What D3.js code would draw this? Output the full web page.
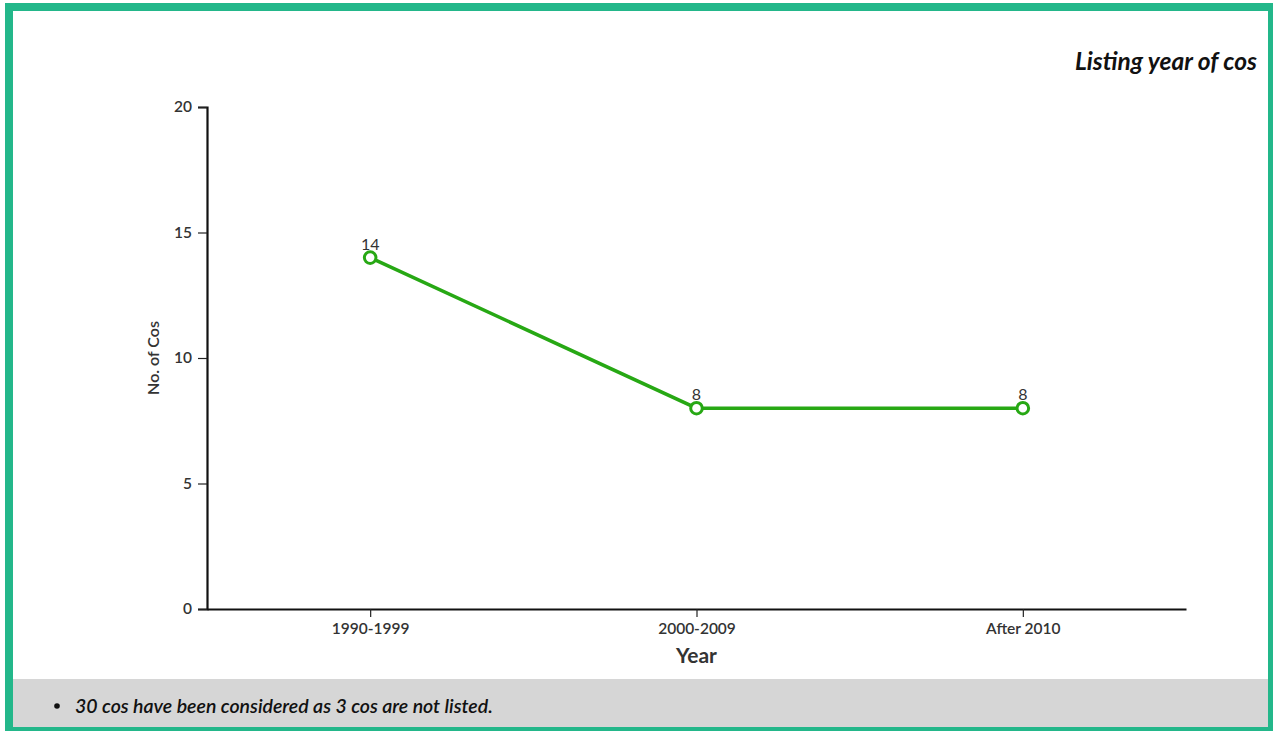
<!DOCTYPE html>
<html>
<head>
<meta charset="utf-8">
<script src="https://cdn.jsdelivr.net/npm/d3@7"></script>
<style>
  html, body { margin: 0; padding: 0; background: #fff; }
  svg { display: block; font-family: Lato, "Open Sans", sans-serif; }
</style>
</head>
<body>
<svg id="chart" width="1273" height="731"></svg>
<script>
// Listing-year buckets and number of companies in each
const categories = ["1990-1999", "2000-2009", "After 2010"];
const counts = [14, 8, 8];
const yTicks = [0, 5, 10, 15, 20];

const title = "Listing year of cos";
const xTitle = "Year";
const yTitle = "No. of Cos";
const footnote = "30 cos have been considered as 3 cos are not listed.";

const svg = d3.select("#chart");
const W = 1273, H = 731;

// Frame and note band
svg.append("rect").attr("x", 0).attr("y", 0).attr("width", W).attr("height", H).attr("fill", "#fff");
svg.append("rect").attr("x", 13).attr("y", 679).attr("width", 1255).attr("height", 48).attr("fill", "#d6d6d6");
svg.append("rect").attr("x", 9).attr("y", 7).attr("width", 1263).attr("height", 724)
  .attr("fill", "none").attr("stroke", "#23b78a").attr("stroke-width", 8);

// Chart title
svg.append("text").attr("x", 1257).attr("y", 70).attr("text-anchor", "end")
  .attr("font-size", 24.5).attr("font-weight", 700).attr("font-style", "italic")
  .attr("fill", "#111").text(title);

const x = d3.scalePoint().domain(categories).range([207, 1186]).padding(0.5);
const y = d3.scaleLinear().domain([0, 20]).range([609, 107]);

// Axes
const xAxis = svg.append("g").attr("transform", "translate(0,609)")
  .call(d3.axisBottom(x).tickSize(8).tickSizeOuter(0).tickPadding(6));
const yAxis = svg.append("g").attr("transform", "translate(207,0)")
  .call(d3.axisLeft(y).tickValues(yTicks).tickSize(9).tickSizeOuter(9).tickPadding(6));

[xAxis, yAxis].forEach(g => {
  g.select(".domain").attr("stroke", "#111").attr("stroke-width", 2.2);
  g.selectAll(".tick line").attr("stroke", "#222").attr("stroke-width", 1.2);
  g.selectAll(".tick text").attr("font-size", 15.5).attr("fill", "#333")
    .attr("font-family", "Lato, sans-serif").attr("font-weight", 600);
});

// Axis titles
svg.append("text").attr("x", x(categories[1])).attr("y", 663).attr("text-anchor", "middle")
  .attr("font-size", 21).attr("font-weight", 700).attr("fill", "#333").text(xTitle);
svg.append("text").attr("transform", "translate(159,358) rotate(-90)").attr("text-anchor", "middle")
  .attr("font-size", 16).attr("font-weight", 600).attr("fill", "#333").text(yTitle);

// Series line
const data = categories.map((c, i) => ({ c, v: counts[i] }));
svg.append("path").datum(data)
  .attr("fill", "none").attr("stroke", "#27a814").attr("stroke-width", 3.5)
  .attr("d", d3.line().x(d => x(d.c)).y(d => y(d.v)));

svg.selectAll("circle.pt").data(data).join("circle").attr("class", "pt")
  .attr("cx", d => x(d.c)).attr("cy", d => y(d.v)).attr("r", 5.8)
  .attr("fill", "#fff").attr("stroke", "#27a814").attr("stroke-width", 3);

svg.selectAll("text.val").data(data).join("text").attr("class", "val")
  .attr("x", d => x(d.c)).attr("y", d => y(d.v) - 8).attr("text-anchor", "middle")
  .attr("font-size", 16).attr("fill", "#333").text(d => d.v);

// Note
svg.append("circle").attr("cx", 57).attr("cy", 706).attr("r", 2.8).attr("fill", "#111");
svg.append("text").attr("x", 75).attr("y", 713).attr("font-size", 19.5)
  .attr("font-style", "italic").attr("font-weight", 600).attr("fill", "#111").text(footnote);
</script>
</body>
</html>
